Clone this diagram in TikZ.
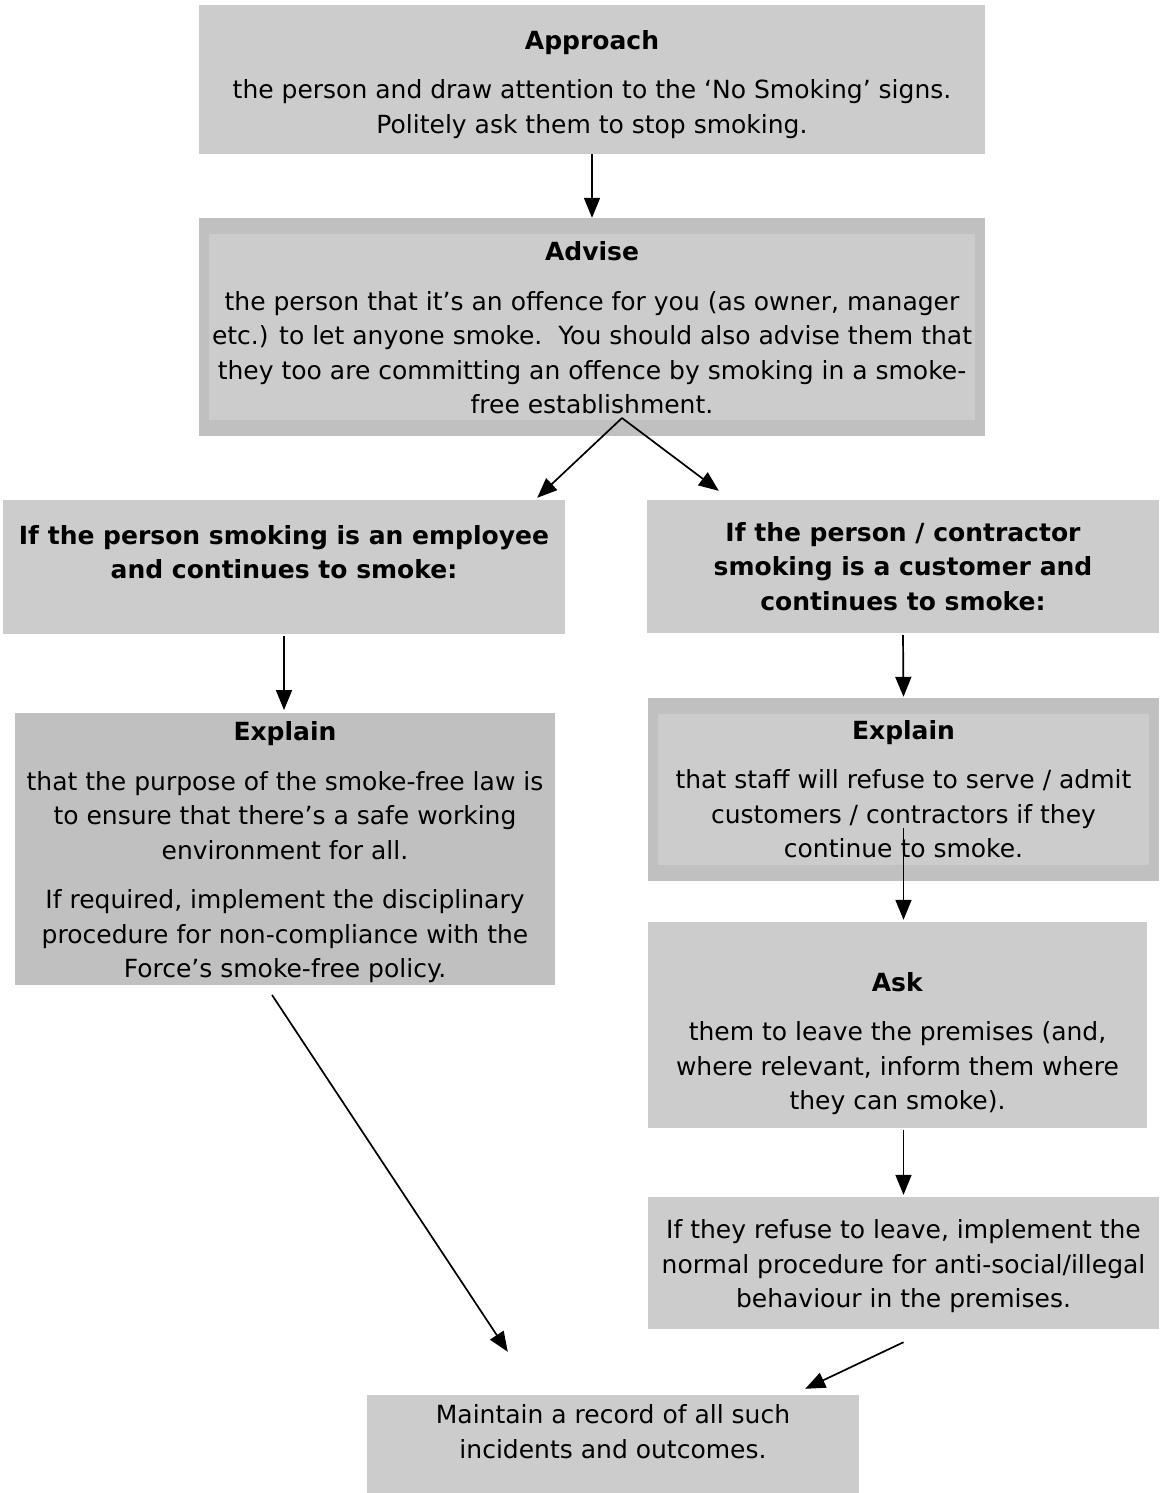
\documentclass[tikz,border=0pt]{standalone}
\usepackage{fontspec}
\setmainfont{DejaVu Sans}
\usetikzlibrary{arrows.meta,calc}
\definecolor{boxlight}{HTML}{CCCCCC}
\definecolor{boxdark}{HTML}{C0C0C0}
% move a block of centred lines up or down inside its box
\newcommand{\shifttext}[2]{\raisebox{#1}[\height][\depth]{\begin{tabular}{@{}c@{}}#2\end{tabular}}}
\tikzset{
	stepbox/.style={fill=boxlight, inner sep=0pt, align=center,
			font=\fontsize{25}{34.5}\selectfont},
	darkbox/.style={stepbox, fill=boxdark},
	framedbox/.style={stepbox, fill=boxdark,
			path picture={\fill[boxlight]
					($(path picture bounding box.south west)+(10pt,16pt)$) rectangle
					($(path picture bounding box.north east)+(-10pt,-16pt)$);}},
	flow/.style={-{Triangle[length=20pt,width=16pt]}, line width=1.7pt}
}
\begin{document}
\begin{tikzpicture}[x=1pt, y=-1pt]

			\useasboundingbox (0,0) rectangle (1160,1493);

			% Top of the procedure
			\node[stepbox, minimum width=786, minimum height=149] (approach) at (592,79.5)
			{\shifttext{-5pt}{\textbf{Approach}\\[15pt]
					the person and draw attention to the ‘No Smoking’ signs.\\
					Politely ask them to stop smoking.}};
			\node[framedbox, minimum width=786, minimum height=218] (advise) at (592,327)
			{\shifttext{-3.5pt}{\textbf{Advise}\\[15pt]
					the person that it’s an offence for you (as owner, manager\\
					etc.) to let anyone smoke.\ \ You should also advise them that\\
					they too are committing an offence by smoking in a smoke-\\
					free establishment.}};

			% Employee branch
			\node[stepbox, minimum width=562, minimum height=134] (emp) at (284,567)
			{\shifttext{12.5pt}{\textbf{If the person smoking is an employee}\\
					\textbf{and continues to smoke:}}};
			\node[darkbox, minimum width=540, minimum height=268] (explL) at (285,849)
			{\shifttext{-3.5pt}{\textbf{Explain}\\[15pt]
					that the purpose of the smoke-free law is\\
					to ensure that there’s a safe working\\
					environment for all.\\[15pt]
					If required, implement the disciplinary\\
					procedure for non-compliance with the\\
					Force’s smoke-free policy.}};

			% Customer branch
			\node[stepbox, minimum width=512, minimum height=133] (cust) at (903,566.5)
			{\shifttext{-2.5pt}{\textbf{If the person / contractor}\\
					\textbf{smoking is a customer and}\\
					\textbf{continues to smoke:}}};
			\node[framedbox, minimum width=511, minimum height=183] (explR) at (903.5,789.5)
			{\shifttext{-2pt}{\textbf{Explain}\\[15pt]
					that staff will refuse to serve / admit\\
					customers / contractors if they\\
					continue to smoke.}};
			\node[stepbox, minimum width=499, minimum height=206] (ask) at (897.5,1025)
			{\shifttext{-18.5pt}{\textbf{Ask}\\[15pt]
					them to leave the premises (and,\\
					where relevant, inform them where\\
					they can smoke).}};
			\node[stepbox, minimum width=511, minimum height=132] (refuse) at (903.5,1263)
			{\shifttext{-3.5pt}{If they refuse to leave, implement the\\
					normal procedure for anti-social/illegal\\
					behaviour in the premises.}};

			% Common end
			\node[stepbox, minimum width=492, minimum height=98] (record) at (613,1444)
			{\shifttext{10pt}{Maintain a record of all such\\
					incidents and outcomes.}};

			% Draw the arrows
			\draw[flow] (approach) -- (advise);
			\coordinate (split) at (622,418);
			\draw[flow] (split) -- ([xshift=-28pt,yshift=2pt]emp.north east);
			\draw[flow] (split) -- ([xshift=72pt,yshift=9pt]cust.north west);
			\draw[flow] ([yshift=-2pt]emp.south) -- ([yshift=3pt]emp.south |- explL.north);
			\draw[flow] ([yshift=-2pt]cust.south) -- ([yshift=1pt]explR.north);
			\draw[flow] ([yshift=-38pt]explR.center) -- ([yshift=2pt]explR.center |- ask.north);
			\draw[flow] ([yshift=-2pt]refuse.north |- ask.south) -- ([yshift=2pt]refuse.north);
			\draw[flow] ([yshift=-13pt]refuse.south) -- ([xshift=-54pt,yshift=6pt]record.north east);
			\draw[flow] ([xshift=-13pt,yshift=-10pt]explL.south) -- ([xshift=141pt,yshift=43pt]record.north west);

		\end{tikzpicture}
\end{document}
